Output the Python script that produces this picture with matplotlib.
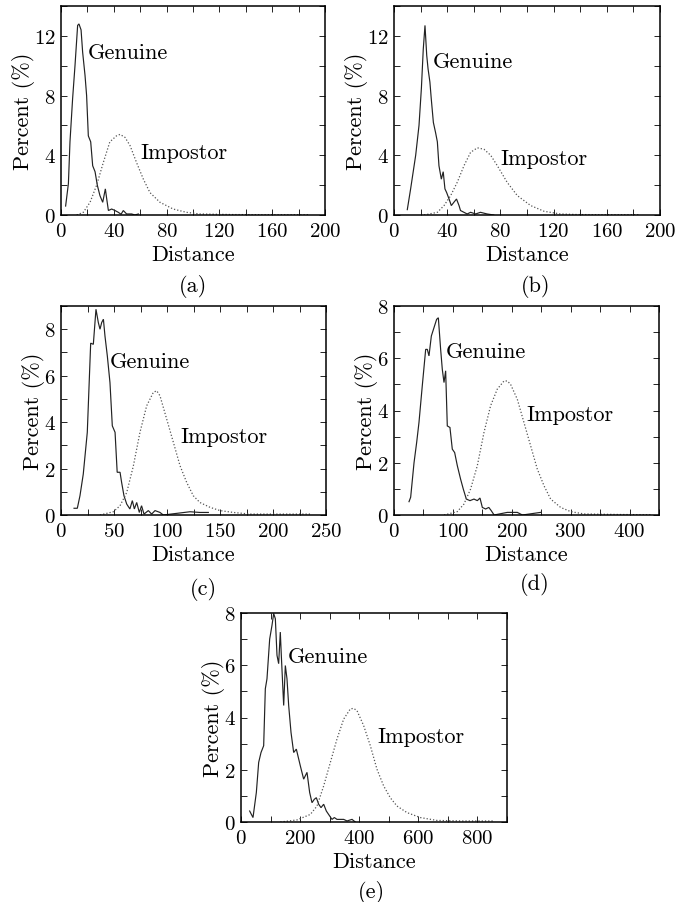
import matplotlib
matplotlib.use("Agg")
import matplotlib.pyplot as plt
from matplotlib.ticker import MultipleLocator

plt.rcParams['font.family'] = ['cmr10', 'DejaVu Serif']
plt.rcParams['axes.formatter.use_mathtext'] = True
plt.rcParams['mathtext.fontset'] = 'cm'

# ---------------- data ----------------
# (a)
a_gen_x = [3.5, 5.6, 6.8, 8.8, 10.6, 12.6, 13.6, 15.2, 16.4, 18.2, 19.4, 20.7, 22.5, 24, 25.8, 27.5,
           29.5, 31.6, 32.6, 33.6, 34.6, 35.9, 38.4, 40.9, 43.4, 45.5, 47.2, 49.7, 53.5, 56, 58.6]
a_gen_y = [0.6, 2.1, 4.9, 7.8, 10.0, 12.7, 12.8, 12.4, 10.9, 9.35, 8.0, 5.3, 4.9, 3.3, 2.9, 2.0,
           1.3, 0.85, 1.3, 1.75, 1.1, 0.3, 0.4, 0.3, 0.18, 0.05, 0.3, 0.07, 0.07, 0.0, 0.07]
a_imp_x = [11.9, 16.9, 22, 27, 32, 37, 42, 44.7, 48.5, 52.3, 57.3, 62.4, 67.4, 75, 85, 95, 105,
           130, 160, 188.6]
a_imp_y = [0.0, 0.18, 0.85, 2.0, 3.5, 4.9, 5.3, 5.4, 5.2, 4.65, 3.5, 2.4, 1.5, 0.85, 0.4, 0.18,
           0.07, 0.03, 0.02, 0.02]

# (b)
b_gen_x = [10, 12.5, 16.3, 18.8, 20.6, 22, 23.3, 24.6, 25.6, 27, 28, 29.6, 31.3, 32.6, 33.8, 35.6,
           37, 38.3, 39.6, 41.4, 43.1, 45, 47, 48.9, 50, 52.6, 55, 57.6, 61.4, 65, 70, 75]
b_gen_y = [0.36, 1.75, 4.0, 6.0, 8.5, 11.1, 12.7, 10.7, 9.8, 8.9, 7.8, 6.2, 5.5, 4.9, 3.3, 2.4,
           2.9, 1.75, 1.5, 1.07, 0.63, 0.85, 1.07, 0.63, 0.3, 0.18, 0.07, 0.18, 0.07, 0.18, 0.07, 0.0]
b_imp_x = [22.6, 32.6, 37.6, 42.6, 47.6, 52.6, 57.6, 62.7, 67.7, 72.7, 77.7, 85, 92.7, 102.8,
           112.8, 125, 138, 160, 185]
b_imp_y = [0.0, 0.18, 0.63, 1.3, 2.2, 3.3, 4.2, 4.5, 4.4, 4.0, 3.3, 2.2, 1.3, 0.63, 0.25, 0.07,
           0.03, 0.02, 0.02]

# (c)
c_gen_x = [12.3, 15.4, 17.9, 21, 24.8, 28, 30.5, 33, 35.2, 36.8, 38.4, 40, 41.5, 43.7, 46.2, 48.4,
           51, 53, 55.7, 57.2, 59.4, 62, 65, 67.3, 69.2, 71.4, 73.9, 76, 78.3, 82.4, 85.5, 88.7,
           93.4, 96.5, 121.7, 131, 139]
c_gen_y = [0.29, 0.29, 0.83, 1.76, 3.56, 7.4, 7.35, 8.86, 8.29, 8.0, 8.29, 8.43, 7.7, 6.85, 5.7,
           3.84, 3.56, 1.84, 1.84, 1.4, 0.83, 0.47, 0.26, 0.62, 0.26, 0.54, 0.11, 0.4, 0.04, 0.19,
           0.04, 0.19, 0.11, 0.0, 0.14, 0.11, 0.11]
c_imp_x = [36.8, 49.4, 55.7, 62, 68.2, 74.5, 80.8, 87.1, 90.3, 93.4, 99.7, 106, 112.3, 118.6,
           124.8, 131, 140.6, 150, 162.6, 178.3, 235]
c_imp_y = [0.0, 0.14, 0.4, 0.97, 2.1, 3.56, 4.7, 5.28, 5.35, 5.13, 4.13, 3.13, 2.12, 1.4, 0.83,
           0.54, 0.33, 0.19, 0.11, 0.04, 0.04]

# (d)
d_gen_x = [25.5, 28.3, 34, 38.5, 42.4, 48, 53.8, 56.6, 59.4, 63.4, 67.9, 72.4, 75.3, 79.2, 82,
           84.9, 87.7, 90.5, 95, 99, 103, 107.5, 113, 117.7, 122.8, 129, 135.8, 141.5, 146, 150,
           155.6, 161, 165, 170, 192.4, 200.9, 209.4, 218, 249]
d_gen_y = [0.51, 0.68, 2.0, 2.78, 3.54, 4.94, 6.34, 6.34, 6.09, 6.85, 7.17, 7.49, 7.55, 6.34, 5.58,
           5.07, 5.52, 3.41, 3.35, 2.52, 2.39, 1.89, 1.38, 0.99, 0.61, 0.55, 0.61, 0.55, 0.65, 0.29,
           0.23, 0.29, 0.17, 0.0, 0.1, 0.1, 0.1, 0.0, 0.1]
d_imp_x = [85, 107.5, 118.8, 130, 141.5, 152.8, 164, 175.4, 186.8, 192.4, 198, 209.4, 220.7, 232,
           243.3, 254.7, 266, 283, 300, 322.6, 380, 435.8]
d_imp_y = [0.0, 0.13, 0.42, 0.99, 1.89, 3.16, 4.18, 4.82, 5.13, 5.13, 5.0, 4.43, 3.54, 2.65, 1.76,
           1.12, 0.61, 0.29, 0.13, 0.04, 0.02, 0.01]

# (e)
e_gen_x = [29.3, 40.6, 51.9, 59.8, 67.7, 76.7, 82.3, 87.9, 97, 104.9, 110.5, 116.2, 121.8, 127.4,
           133, 136.4, 144.4, 150, 155.6, 161.3, 169.2, 178.2, 187.2, 200.7, 212, 223.3, 232.3,
           240.2, 248.1, 254.9, 262.8, 270.7, 279.7, 288.7, 300, 307.9, 315.8, 324.8, 347.4,
           358.7, 375.6, 386.8]
e_gen_y = [0.42, 0.17, 1.13, 2.28, 2.66, 2.92, 5.1, 5.48, 7.0, 7.53, 7.98, 7.78, 6.38, 6.06, 7.27,
           6.38, 4.46, 5.99, 5.48, 4.46, 3.43, 2.66, 2.79, 2.15, 1.64, 1.9, 1.13, 0.74, 0.87, 0.93,
           0.68, 0.55, 0.68, 0.42, 0.23, 0.1, 0.17, 0.1, 0.1, 0.04, 0.1, 0.0]
e_imp_x = [133, 189.5, 234.6, 257.1, 279.7, 302.3, 324.8, 347.4, 370, 381.2, 392.5, 415, 437.6,
           460, 482.7, 505, 527.8, 561.6, 606.7, 663, 750, 855]
e_imp_y = [0.0, 0.08, 0.29, 0.61, 1.38, 2.28, 3.18, 3.94, 4.33, 4.35, 4.26, 3.69, 2.92, 2.02,
           1.38, 0.93, 0.61, 0.36, 0.17, 0.06, 0.04, 0.04]

panel_letters = ['(a)', '(b)', '(c)', '(d)', '(e)']

# ---------------- layout ----------------
W, H = 688, 903
fig = plt.figure(figsize=(W / 100, H / 100), dpi=100)


def ax_at(left, right, top, bottom):
    return fig.add_axes([left / W, (H - bottom) / H, (right - left) / W, (bottom - top) / H])


panels = [
    dict(box=(61, 325, 7, 216), gx=a_gen_x, gy=a_gen_y, ix=a_imp_x, iy=a_imp_y,
         xlim=200, ylim=14, xmaj=40, ymaj=4, gpos=(20, 10.9), ipos=(60, 4.2), cap=(193, 287)),
    dict(box=(394, 660, 7, 216), gx=b_gen_x, gy=b_gen_y, ix=b_imp_x, iy=b_imp_y,
         xlim=200, ylim=14, xmaj=40, ymaj=4, gpos=(28.8, 10.3), ipos=(80, 3.8), cap=(536, 287)),
    dict(box=(61, 326, 307, 516), gx=c_gen_x, gy=c_gen_y, ix=c_imp_x, iy=c_imp_y,
         xlim=250, ylim=9, xmaj=50, ymaj=2, gpos=(46.2, 6.64), ipos=(112.3, 3.4), cap=(203, 590)),
    dict(box=(394, 659, 307, 516), gx=d_gen_x, gy=d_gen_y, ix=d_imp_x, iy=d_imp_y,
         xlim=450, ylim=8, xmaj=100, ymaj=2, gpos=(87.7, 6.25), ipos=(225, 3.86), cap=(535, 585)),
    dict(box=(241, 507, 614, 823), gx=e_gen_x, gy=e_gen_y, ix=e_imp_x, iy=e_imp_y,
         xlim=900, ylim=8, xmaj=200, ymaj=2, gpos=(158, 6.35), ipos=(462, 3.28), cap=(371, 893)),
]

for p, letter in zip(panels, panel_letters):
    ax = ax_at(*p['box'])
    ax.plot(p['gx'], p['gy'], color='#222222', lw=0.85, solid_joinstyle='miter')
    ax.plot(p['ix'], p['iy'], color='#555555', lw=0.9, linestyle=(0, (1, 1.6)))
    ax.set_xlim(0, p['xlim'])
    ax.set_ylim(0, p['ylim'])
    ax.xaxis.set_major_locator(MultipleLocator(p['xmaj']))
    ax.xaxis.set_minor_locator(MultipleLocator(p['xmaj'] / 2))
    ax.yaxis.set_major_locator(MultipleLocator(p['ymaj']))
    ax.yaxis.set_minor_locator(MultipleLocator(p['ymaj'] / 2))
    ax.tick_params(which='both', direction='in', top=True, right=True, length=4, width=0.6,
                   labelsize=15)
    ax.tick_params(axis='x', pad=5)
    ax.tick_params(axis='y', pad=4)
    for s in ax.spines.values():
        s.set_linewidth(1.1)
    ax.set_xlabel('Distance', fontsize=16, labelpad=3)
    ax.set_ylabel('Percent (%)', fontsize=16, labelpad=-1)
    ax.text(*p['gpos'], 'Genuine', fontsize=16, va='center', ha='left')
    ax.text(*p['ipos'], 'Impostor', fontsize=16, va='center', ha='left')
    fig.text(p['cap'][0] / W, 1 - p['cap'][1] / H, letter, fontsize=16, ha='center', va='center')

fig.savefig('out.png', dpi=100)
